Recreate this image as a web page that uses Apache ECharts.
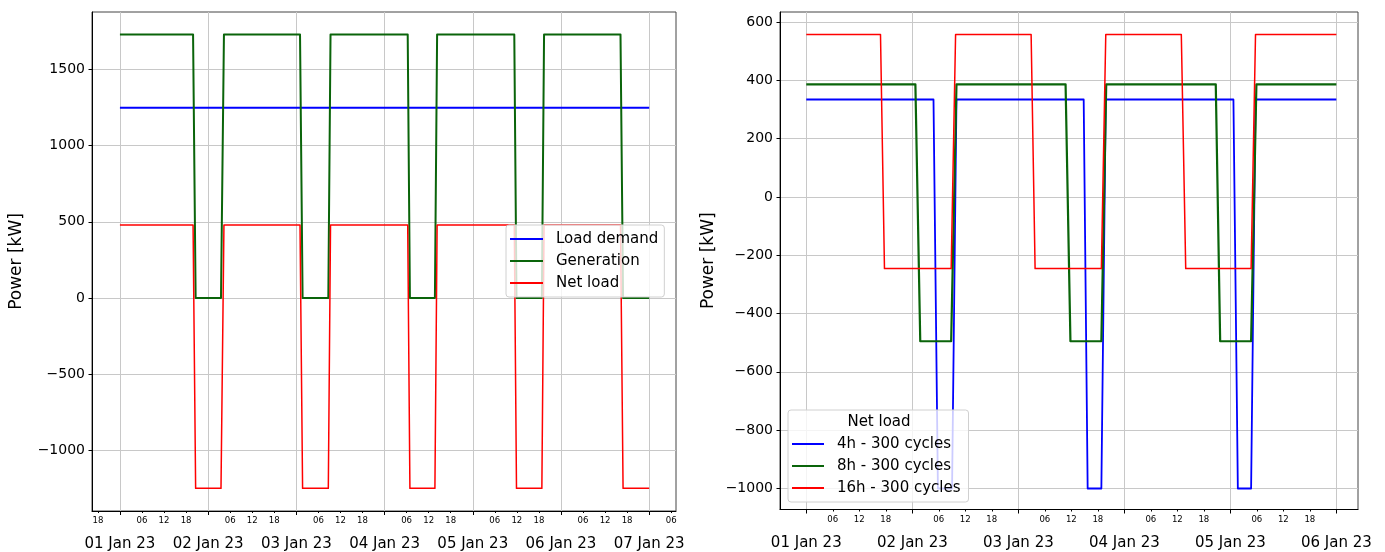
<!DOCTYPE html>
<html><head><meta charset="utf-8">
<script src="https://cdn.jsdelivr.net/npm/echarts@6/dist/echarts.min.js"></script>
<style>html,body{margin:0;padding:0;background:#fff}#c{width:1385px;height:552px}</style>
</head><body><div id="c"></div>
<script>
// ---------- Left chart data (hours since 01 Jan 23 00:00) ----------
const loadHours = [0, 144];
const loadKW = [1250, 1250];
const genHours = [0, 19.9, 20.6, 27.5, 28.3, 49.0, 49.7, 56.7, 57.3, 78.3, 78.9, 85.7, 86.3, 107.3, 107.9, 114.8, 115.4, 136.2, 136.9, 144];
const genKW    = [1730, 1730, 0, 0, 1730, 1730, 0, 0, 1730, 1730, 0, 0, 1730, 1730, 0, 0, 1730, 1730, 0, 0];
const netHours = [0, 19.9, 20.6, 27.5, 28.3, 49.0, 49.7, 56.7, 57.3, 78.3, 78.9, 85.7, 86.3, 107.3, 107.9, 114.8, 115.4, 136.2, 136.9, 144];
const netKW    = [480, 480, -1250, -1250, 480, 480, -1250, -1250, 480, 480, -1250, -1250, 480, 480, -1250, -1250, 480, 480, -1250, -1250];

// ---------- Right chart data ----------
const b4Hours = [0, 28.8, 29.8, 33.0, 34.0, 62.8, 63.7, 66.8, 67.8, 96.7, 97.7, 100.7, 101.7, 120];
const b4KW    = [334, 334, -1000, -1000, 334, 334, -1000, -1000, 334, 334, -1000, -1000, 334, 334];
const b8Hours = [0, 24.7, 25.8, 32.8, 34.0, 58.7, 59.8, 66.8, 67.9, 92.7, 93.7, 100.7, 101.9, 120];
const b8KW    = [386, 386, -495, -495, 386, 386, -495, -495, 386, 386, -495, -495, 386, 386];
const b16Hours = [0, 16.8, 17.7, 32.8, 33.8, 50.9, 51.8, 66.8, 67.8, 84.9, 85.9, 100.7, 101.7, 120];
const b16KW    = [557, 557, -246, -246, 557, 557, -246, -246, 557, 557, -246, -246, 557, 557];

// ---------- Tick values / labels ----------
const leftDayTicks = [0, 24, 48, 72, 96, 120, 144];
const leftDayLabels = ['01 Jan 23', '02 Jan 23', '03 Jan 23', '04 Jan 23', '05 Jan 23', '06 Jan 23', '07 Jan 23'];
const leftHourTicks = [-6, 6, 12, 18, 30, 36, 42, 54, 60, 66, 78, 84, 90, 102, 108, 114, 126, 132, 138, 150];
const leftHourLabels = ['18', '06', '12', '18', '06', '12', '18', '06', '12', '18', '06', '12', '18', '06', '12', '18', '06', '12', '18', '06'];
const rightDayTicks = [0, 24, 48, 72, 96, 120];
const rightDayLabels = ['01 Jan 23', '02 Jan 23', '03 Jan 23', '04 Jan 23', '05 Jan 23', '06 Jan 23'];
const rightHourTicks = [6, 12, 18, 30, 36, 42, 54, 60, 66, 78, 84, 90, 102, 108, 114];
const rightHourLabels = ['06', '12', '18', '06', '12', '18', '06', '12', '18', '06', '12', '18', '06', '12', '18'];
const leftYTicks = [-1000, -500, 0, 500, 1000, 1500];
const rightYTicks = [-1000, -800, -600, -400, -200, 0, 200, 400, 600];

const FONT = "'DejaVu Sans', sans-serif";
const COND = "'DejaVu Sans Condensed', 'DejaVu Sans', sans-serif";
const GRIDC = '#c8c8c8';

function pairs(xs, ys) { return xs.map((x, i) => [x, ys[i]]); }
function lookup(ticks, labels) { return v => { const i = ticks.findIndex(t => Math.abs(t - v) < 1e-6); return i >= 0 ? labels[i] : ''; }; }

function xAxes(g, min, max, hourTicks, hourLabels, dayTicks, dayLabels) {
  return [
    { type: 'value', gridIndex: g, min, max, position: 'bottom',
      axisLine: { show: true, onZero: false, lineStyle: { color: '#000', width: 1 } },
      axisTick: { show: true, length: 2, customValues: hourTicks, lineStyle: { color: '#000' } },
      axisLabel: { show: true, customValues: hourTicks, formatter: lookup(hourTicks, hourLabels),
        fontSize: 9.5, fontFamily: COND, color: '#000', margin: 5 },
      splitLine: { show: false } },
    { type: 'value', gridIndex: g, min, max, position: 'bottom',
      axisLine: { show: false, onZero: false },
      axisTick: { show: true, length: 4, customValues: dayTicks, lineStyle: { color: '#000' } },
      axisLabel: { show: true, customValues: dayTicks, formatter: lookup(dayTicks, dayLabels),
        fontSize: 15, fontFamily: FONT, color: '#000', margin: 26 },
      splitLine: { show: true, lineStyle: { color: GRIDC, width: 1 } } }
  ];
}
function yAxis(g, min, max, ticks, nameGap) {
  return { type: 'value', gridIndex: g, min, max, position: 'left',
    axisLine: { show: true, onZero: false, lineStyle: { color: '#000', width: 1 } },
    axisTick: { show: true, length: 3.5, customValues: ticks, lineStyle: { color: '#000' } },
    axisLabel: { show: true, customValues: ticks, formatter: v => String(v).replace('-', '\u2212'),
      fontSize: 14, fontFamily: FONT, color: '#000', margin: 7 },
    splitLine: { show: true, lineStyle: { color: GRIDC, width: 1 } },
    name: 'Power [kW]', nameLocation: 'middle', nameGap,
    nameTextStyle: { fontSize: 17, fontFamily: FONT, color: '#000' } };
}
function line(name, xi, yi, data, color, width) {
  return { type: 'line', name, xAxisIndex: xi, yAxisIndex: yi, data, symbol: 'none', showSymbol: false,
    lineStyle: { color, width, join: 'round' }, itemStyle: { color }, animation: false, silent: true, clip: true };
}

const BLUE = '#0000ff', GREEN = '#0a640a', RED = '#ff0000';

const legendBase = {
  orient: 'vertical', icon: 'rect', itemWidth: 33, itemHeight: 2, itemGap: 0, align: 'left',
  backgroundColor: 'rgba(255,255,255,0.8)', borderColor: '#d0d0d0', borderWidth: 1, borderRadius: 3,
  textStyle: { fontSize: 15, fontFamily: FONT, color: '#000', lineHeight: 22, padding: [0, 0, 0, 8] },
  selectedMode: false
};

const option = {
  animation: false,
  backgroundColor: '#fff',
  grid: [
    { left: 92, top: 12, width: 584, height: 499, show: true, borderColor: '#444', borderWidth: 1, containLabel: false, outerBoundsMode: 'none' },
    { left: 780, top: 12, width: 578, height: 497.5, show: true, borderColor: '#444', borderWidth: 1, containLabel: false, outerBoundsMode: 'none' }
  ],
  xAxis: [
    ...xAxes(0, -7.6, 151.3, leftHourTicks, leftHourLabels, leftDayTicks, leftDayLabels),
    ...xAxes(1, -5.95, 124.9, rightHourTicks, rightHourLabels, rightDayTicks, rightDayLabels)
  ],
  yAxis: [
    yAxis(0, -1398.6, 1878, leftYTicks, 67),
    yAxis(1, -1072, 634, rightYTicks, 63)
  ],
  legend: [
    Object.assign({}, legendBase, { data: ['Load demand', 'Generation', 'Net load'], left: 506, top: 225, padding: [3, 6, 3, 4] }),
    Object.assign({}, legendBase, { data: ['4h - 300 cycles', '8h - 300 cycles', '16h - 300 cycles'], left: 788, top: 410, itemWidth: 32, padding: [23, 8, 3, 4] })
  ],
  graphic: [
    { type: 'text', x: 879, y: 422, z: 100, silent: true,
      style: { text: 'Net load', font: "15px 'DejaVu Sans', sans-serif", fill: '#000', align: 'center', verticalAlign: 'middle' } }
  ],
  series: [
    line('Load demand', 0, 0, pairs(loadHours, loadKW), BLUE, 2),
    line('Generation', 0, 0, pairs(genHours, genKW), GREEN, 2),
    line('Net load', 0, 0, pairs(netHours, netKW), RED, 1.5),
    line('4h - 300 cycles', 2, 1, pairs(b4Hours, b4KW), BLUE, 1.8),
    line('8h - 300 cycles', 2, 1, pairs(b8Hours, b8KW), GREEN, 2.2),
    line('16h - 300 cycles', 2, 1, pairs(b16Hours, b16KW), RED, 1.5)
  ]
};
const chart = echarts.init(document.getElementById('c'), null, { renderer: 'canvas' });
chart.setOption(option);
</script>
</body></html>
